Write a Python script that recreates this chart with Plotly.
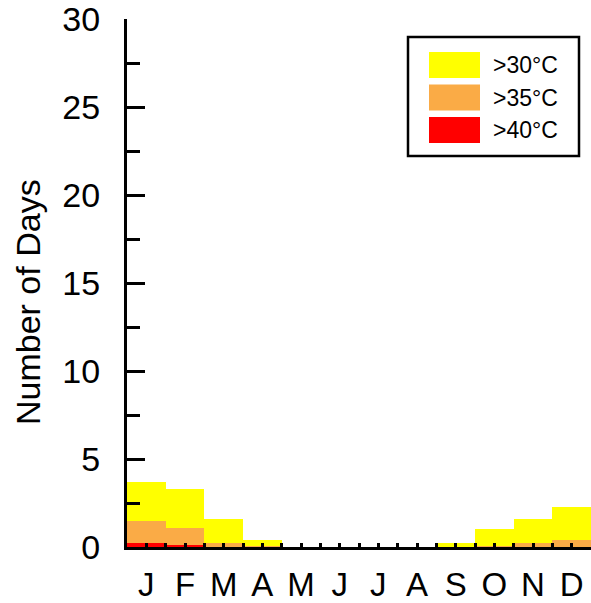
import plotly.graph_objects as go

months = ["J", "F", "M", "A", "M", "J", "J", "A", "S", "O", "N", "D"]
days_over_30 = [3.7, 3.3, 1.6, 0.4, 0.0, 0.0, 0.0, 0.0, 0.2, 1.0, 1.6, 2.3]
days_over_35 = [1.5, 1.1, 0.25, 0.03, 0.0, 0.0, 0.0, 0.0, 0.0, 0.03, 0.25, 0.4]
days_over_40 = [0.25, 0.1, 0.0, 0.0, 0.0, 0.0, 0.0, 0.0, 0.0, 0.0, 0.0, 0.0]
series_names = [">30°C", ">35°C", ">40°C"]
series_colors = ["#FFFF00", "#FAAB46", "#FF0000"]
y_title = "Number of Days"

x = list(range(1, 13))
FONT = "Liberation Sans, Arial, sans-serif"

fig = go.Figure()
for name, vals, col in zip(series_names, [days_over_30, days_over_35, days_over_40], series_colors):
    fig.add_trace(go.Bar(x=x, y=vals, name=name, marker=dict(color=col, line=dict(width=0)),
                         width=1.0, showlegend=False))

# plot-area geometry (pixels) for custom legend placement
W, H = 591, 603
L, R, T, B = 127, 591, 19, 547

def px(xp):
    return (xp - L) / (R - L)

def py(yp):
    return (B - yp) / (B - T)

shapes = [dict(type="rect", xref="paper", yref="paper", x0=px(408), x1=px(579), y0=py(156), y1=py(37),
               line=dict(color="black", width=2.5), fillcolor="white", layer="above")]
annotations = []
sw_top = [52, 84.5, 117]
for name, col, t in zip(series_names, series_colors, sw_top):
    shapes.append(dict(type="rect", xref="paper", yref="paper", x0=px(429), x1=px(480), y0=py(t + 26), y1=py(t),
                       line=dict(width=0), fillcolor=col, layer="above"))
    annotations.append(dict(xref="paper", yref="paper", x=px(491), y=py(t + 13), text=name, showarrow=False,
                            xanchor="left", yanchor="middle", font=dict(size=23, color="black", family=FONT)))

annotations.append(dict(xref="paper", yref="paper", x=px(28), y=py(302), text=y_title, textangle=-90,
                        showarrow=False, xanchor="center", yanchor="middle",
                        font=dict(size=34, color="black", family=FONT)))

fig.update_layout(
    width=W, height=H,
    margin=dict(l=L, r=W - R, t=T, b=H - B, autoexpand=False),
    barmode="overlay", bargap=0,
    plot_bgcolor="white", paper_bgcolor="white",
    font=dict(family=FONT, color="black"),
    shapes=shapes, annotations=annotations,
    xaxis=dict(range=[0.5, 12.5], tickmode="array", tickvals=x, ticktext=months,
               ticks="inside", ticklen=4, tickwidth=3, tickcolor="black",
               minor=dict(tickmode="array", tickvals=[i + 0.5 for i in range(0, 13)], ticks="inside",
                          ticklen=4, tickwidth=3, tickcolor="black"),
               showline=True, linecolor="black", linewidth=3, showgrid=False, zeroline=False,
               tickfont=dict(size=33), ticklabelstandoff=6, ticklabeloverflow="allow"),
    yaxis=dict(range=[0, 30], tickmode="array", tickvals=[0, 5, 10, 15, 20, 25, 30],
               ticktext=["0", "5", "10", "15", "20", "25", "30"],
               ticks="inside", ticklen=18, tickwidth=3, tickcolor="black",
               minor=dict(dtick=2.5, ticks="inside", ticklen=13, tickwidth=3, tickcolor="black"),
               showline=True, linecolor="black", linewidth=3, showgrid=False, zeroline=False,
               tickfont=dict(size=34), ticklabelstandoff=17, ticklabeloverflow="allow"),
)

fig.write_html("out.html", config={"displayModeBar": False},
               post_script="document.body.style.margin='0px';")
